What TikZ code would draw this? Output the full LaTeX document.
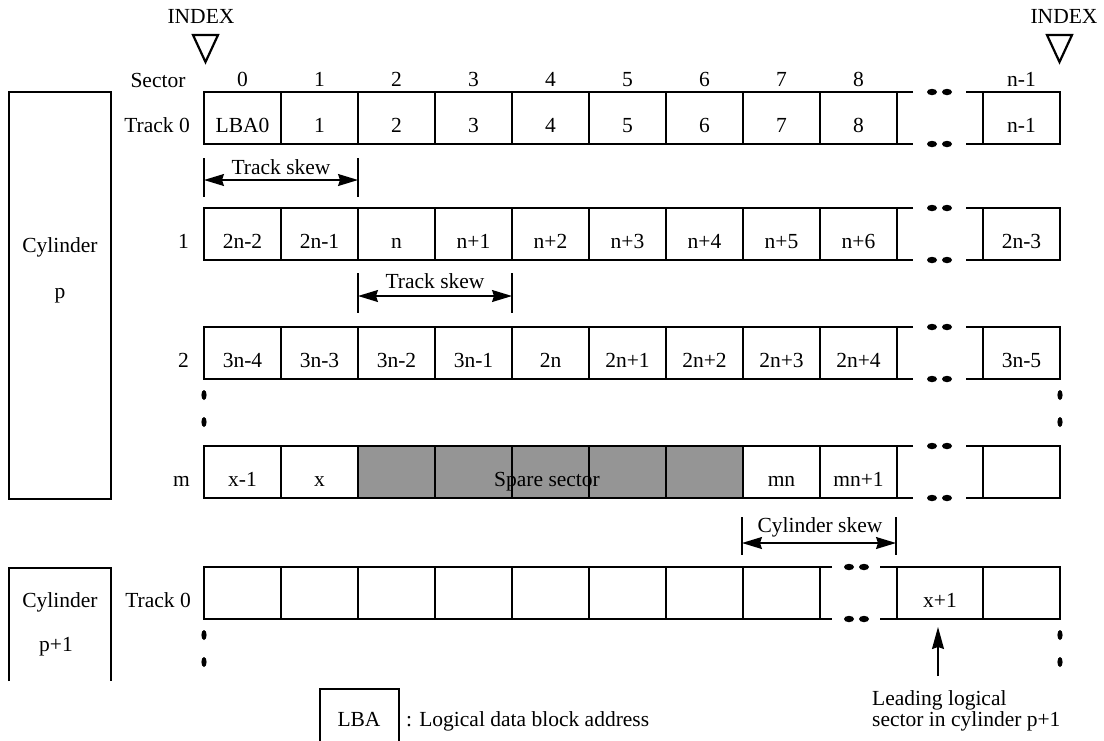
\documentclass[tikz,border=0pt]{standalone}
\usepackage{fontspec}
\setmainfont{Liberation Serif}
\usetikzlibrary{arrows.meta}
\definecolor{sparegray}{RGB}{149,149,149}
\begin{document}
\begin{tikzpicture}[x=1pt,y=-1pt,
  outer/.style={line width=2.6pt, line join=miter},
  inner/.style={line width=1.3pt},
  lbl/.style={font=\fontsize{21.5}{25}\selectfont, inner sep=0pt, anchor=base},
  rlbl/.style={lbl, anchor=base east},
  llbl/.style={lbl, anchor=base west},
  dimarrow/.style={line width=1.3pt, {Stealth[length=20pt,width=12pt,inset=2pt]}-{Stealth[length=20pt,width=12pt,inset=2pt]}},
  hdot/.style={fill=black},
]
\useasboundingbox (0,0) rectangle (1104,740);

% ---------- INDEX marks ----------
\node[lbl] (idxL) at (201,23) {INDEX};
\node[lbl] (idxR) at (1064,23) {INDEX};
\draw[line width=2.2pt] (193,35) -- (218,35) -- (205.5,62) -- cycle;
\draw[line width=2.2pt] (1047,35) -- (1072,35) -- (1059.5,62) -- cycle;

% ---------- Sector numbers ----------
\node[lbl] (sec) at (158,87) {Sector};
\foreach \i/\t in {0/0,1/1,2/2,3/3,4/4,5/5,6/6,7/7,8/8}
  \node[lbl] (s\i) at ({242.5+77*\i},86) {\t};
\node[lbl] (s9) at (1021.5,86) {n-1};

% ---------- Cylinder boxes ----------
\draw[outer] (9,92) rectangle (111,499);
\node[lbl] (cylp) at (60,252) {Cylinder};
\node[lbl] (cylpn) at (60,298) {p};
\draw[outer] (9,681) -- (9,568) -- (111,568) -- (111,681);
\node[lbl] (cylq) at (60,607) {Cylinder};
\node[lbl] (cylqn) at (56,651) {p+1};

% ---------- full rows (tracks 0,1,2 of cylinder p) ----------
\foreach \T in {92,208,327}{
  \pgfmathsetmacro{\B}{\T+52}
  \draw[outer] (913,\T) -- (204,\T) -- (204,\B) -- (913,\B);
  \draw[outer] (966,\T) -- (1060,\T) -- (1060,\B) -- (966,\B);
  \foreach \xx in {281,358,435,512,589,666,743,820,897,983}
    \draw[inner] (\xx,\T) -- (\xx,\B);
  \foreach \xx in {932,947}{
    \fill[hdot] (\xx,\T) ellipse [x radius=5pt, y radius=3.2pt];
    \fill[hdot] (\xx,\B) ellipse [x radius=5pt, y radius=3.2pt];
  }
}

% row labels
\node[rlbl] (t0) at (190,132) {Track 0};
\node[rlbl] (t1) at (189,248) {1};
\node[rlbl] (t2) at (189,367) {2};
\node[rlbl] (tm) at (190,486) {m};
\node[rlbl] (tq) at (191,607) {Track 0};

% row 0 contents
\foreach \i/\t in {0/LBA0,1/1,2/2,3/3,4/4,5/5,6/6,7/7,8/8}
  \node[lbl] (a\i) at ({242.5+77*\i},132) {\t};
\node[lbl] (a9) at (1021.5,132) {n-1};
% row 1 contents
\foreach \i/\t in {0/2n-2,1/2n-1,2/n,3/n+1,4/n+2,5/n+3,6/n+4,7/n+5,8/n+6}
  \node[lbl] (b\i) at ({242.5+77*\i},248) {\t};
\node[lbl] (b9) at (1021.5,248) {2n-3};
% row 2 contents
\foreach \i/\t in {0/3n-4,1/3n-3,2/3n-2,3/3n-1,4/2n,5/2n+1,6/2n+2,7/2n+3,8/2n+4}
  \node[lbl] (c\i) at ({242.5+77*\i},367) {\t};
\node[lbl] (c9) at (1021.5,367) {3n-5};

% vertical ellipsis between track 2 and track m
\foreach \yy in {395,422}{
  \fill (204,\yy) ellipse [x radius=2.6pt, y radius=5pt];
  \fill (1060,\yy) ellipse [x radius=2.6pt, y radius=5pt];
}

% ---------- track m ----------
\fill[sparegray] (358,446) rectangle (743,498);
\node[lbl] (spare) at (547,486) {Spare sector};
\draw[outer] (913,446) -- (204,446) -- (204,498) -- (913,498);
\draw[outer] (966,446) -- (1060,446) -- (1060,498) -- (966,498);
\foreach \xx in {281,358,435,512,589,666,743,820,897,983}
  \draw[inner] (\xx,446) -- (\xx,498);
\foreach \xx in {932,947}{
  \fill[hdot] (\xx,446) ellipse [x radius=5pt, y radius=3.2pt];
  \fill[hdot] (\xx,498) ellipse [x radius=5pt, y radius=3.2pt];
}
\node[lbl] (m0) at (242.5,486) {x-1};
\node[lbl] (m1) at (319.5,486) {x};
\node[lbl] (m7) at (781.5,486) {mn};
\node[lbl] (m8) at (858.5,486) {mn+1};

% cylinder skew
\coordinate (csA) at (742,543);
\coordinate (csB) at (896,543);
\draw[inner] (742,517) -- (742,555);
\draw[inner] (896,517) -- (896,555);
\draw[dimarrow] (csA) -- (csB);
\node[lbl] (csk) at (820,532) {Cylinder skew};

% ---------- cylinder p+1, track 0 ----------
\draw[outer] (832,567) -- (204,567) -- (204,619) -- (832,619);
\draw[outer] (880,567) -- (1060,567) -- (1060,619) -- (880,619);
\foreach \xx in {281,358,435,512,589,666,743,820,897,983}
  \draw[inner] (\xx,567) -- (\xx,619);
\foreach \xx in {849,864}{
  \fill[hdot] (\xx,567) ellipse [x radius=5pt, y radius=3.2pt];
  \fill[hdot] (\xx,619) ellipse [x radius=5pt, y radius=3.2pt];
}
\node[lbl] (q8) at (940,607) {x+1};
\foreach \yy in {635,662}{
  \fill (204,\yy) ellipse [x radius=2.6pt, y radius=5pt];
  \fill (1060,\yy) ellipse [x radius=2.6pt, y radius=5pt];
}

% ---------- track skews ----------
\coordinate (ts1A) at (204,180);
\coordinate (ts1B) at (358,180);
\draw[inner] (204,158) -- (204,197);
\draw[inner] (358,158) -- (358,197);
\draw[dimarrow] (ts1A) -- (ts1B);
\node[lbl] (ts1) at (281,174) {Track skew};

\coordinate (ts2A) at (358,296);
\coordinate (ts2B) at (512,296);
\draw[inner] (358,273) -- (358,313);
\draw[inner] (512,273) -- (512,313);
\draw[dimarrow] (ts2A) -- (ts2B);
\node[lbl] (ts2) at (435,288) {Track skew};

% ---------- leading logical sector ----------
\node[llbl] (lead1) at (872,705) {Leading logical};
\node[llbl] (lead2) at (872,726) {sector in cylinder p+1};
\coordinate (leadfoot) at (938,676);
\coordinate (leadtip) at (938,627);
\draw[inner, -{Stealth[length=22pt,width=12pt,inset=2pt]}] (leadfoot) -- (leadtip);

% ---------- legend ----------
\draw[outer] (320,745) -- (320,689) -- (399,689) -- (399,745);
\node[lbl] (leg) at (359,726) {LBA};
\node[llbl] (legt) at (406,726) {: Logical data block address};
\end{tikzpicture}
\end{document}
